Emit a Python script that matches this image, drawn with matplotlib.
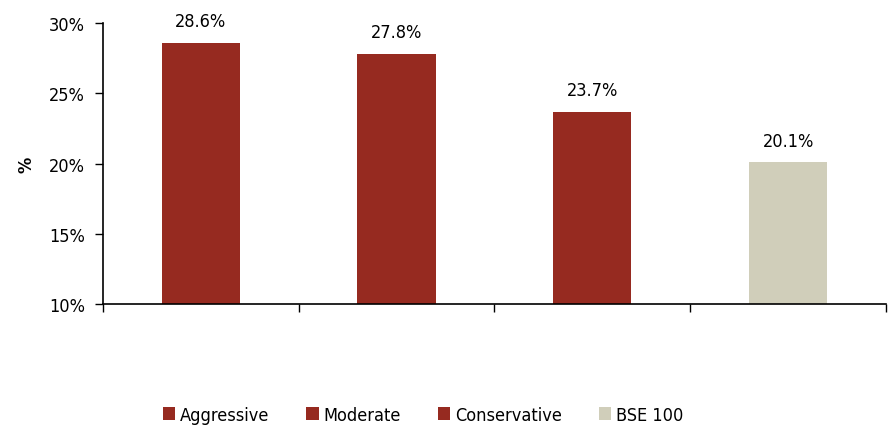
import matplotlib.pyplot as plt
import numpy as np

plt.rcParams['font.family'] = ['DejaVu Sans']
plt.rcParams['font.stretch'] = 'condensed'
plt.rcParams['font.size'] = 13

names = ['Aggressive', 'Moderate', 'Conservative', 'BSE 100']
returns = [28.6, 27.8, 23.7, 20.1]
colors = ['#962A20', '#962A20', '#962A20', '#D0CEBA']

fig = plt.figure(figsize=(8.94, 4.31), dpi=100)
ax = fig.add_axes([0.1152, 0.2923, 0.8758, 0.652])

x = np.arange(len(names))
for i in range(len(names)):
    ax.bar(x[i], returns[i] - 10, bottom=10, width=0.4, color=colors[i], label=names[i])
    ax.annotate('%.1f%%' % returns[i], (x[i], returns[i]), xytext=(0, 9),
                textcoords='offset points', ha='center', va='bottom', fontsize=13)

ax.set_xlim(-0.5, len(names) - 0.5)
ax.set_ylim(10, 30)
ax.set_yticks([10, 15, 20, 25, 30])
ax.set_yticklabels(['10%', '15%', '20%', '25%', '30%'])
ax.set_xticks(np.arange(len(names) + 1) - 0.5)
ax.set_xticklabels([])
ax.tick_params(axis='both', direction='out', length=6, width=1, color='black')
ax.tick_params(axis='y', pad=7)
for s in ['top', 'right']:
    ax.spines[s].set_visible(False)
ax.spines['left'].set_linewidth(1.2)
ax.spines['bottom'].set_linewidth(1.2)
ax.set_ylabel('%', fontsize=13, fontweight='bold', labelpad=10)

fig.legend(loc='center', bbox_to_anchor=(0.473, 0.035), ncol=4, frameon=False,
           handlelength=0.7, handleheight=0.7, handletextpad=0.25, columnspacing=2.05,
           fontsize=13)

fig.savefig('out.png', dpi=100)
